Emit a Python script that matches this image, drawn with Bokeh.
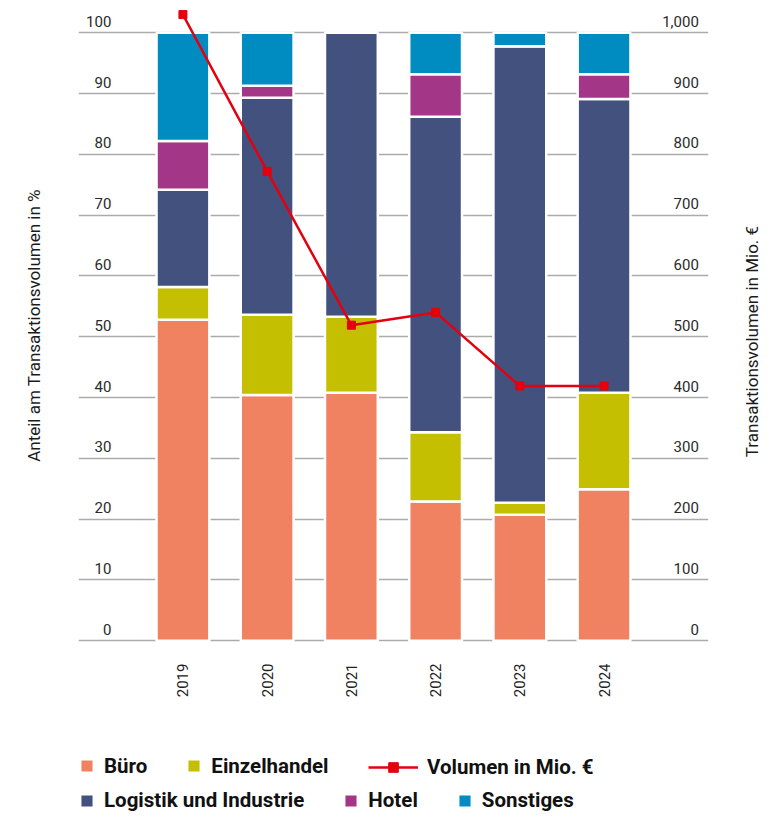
import math
from bokeh.plotting import figure
from bokeh.layouts import column
from bokeh.models import (ColumnDataSource, FactorRange, Range1d, LinearAxis,
                          FixedTicker, Legend, LegendItem)
from bokeh.core.properties import value
from bokeh.embed import file_html
from bokeh.resources import INLINE

# ---- data ----
years = ["2019", "2020", "2021", "2022", "2023", "2024"]
buero = [52.8, 40.4, 40.8, 22.9, 20.7, 24.9]
einzelhandel = [5.4, 13.2, 12.5, 11.4, 2.0, 15.9]
logistik = [16.0, 35.7, 46.7, 51.9, 75.1, 48.3]
hotel = [8.0, 2.0, 0.0, 7.0, 0.0, 4.1]
sonstiges = [17.8, 8.7, 0.0, 6.8, 2.2, 6.8]
volumen = [1030, 772, 519, 540, 419, 419]

pct_ticks = [0, 10, 20, 30, 40, 50, 60, 70, 80, 90, 100]
vol_ticks = [0, 100, 200, 300, 400, 500, 600, 700, 800, 900, 1000]

series = ["Büro", "Einzelhandel", "Logistik und Industrie", "Hotel", "Sonstiges"]
colors = ["#F08262", "#C4BF00", "#43517F", "#A43687", "#008CC1"]
line_color = "#E3000F"
right_title = "Transaktionsvolumen in Mio. €"

FONT = "Roboto"
PAD = 0.74
FRAME_W = 633
FRAME_H = 637
VOL_RANGE = (-3, 1040)
FIG_W = 775

src = ColumnDataSource(dict(year=years, b=buero, e=einzelhandel, l=logistik,
                            h=hotel, s=sonstiges, v=volumen))
stack_cols = ["b", "e", "l", "h", "s"]

p = figure(width=FIG_W, height=700, output_backend="svg", toolbar_location=None,
           x_range=FactorRange(factors=years, range_padding=PAD,
                               range_padding_units="absolute"),
           y_range=Range1d(-0.3, 104),
           min_border_left=78, min_border_right=64, min_border_top=8,
           min_border_bottom=55)
p.outline_line_color = None
p.extra_y_ranges = {"vol": Range1d(*VOL_RANGE)}

bars = p.vbar_stack(stack_cols, x="year", width=0.627, source=src,
                    color=colors, line_color="white", line_width=2.5)
ln = p.line(x="year", y="v", source=src, y_range_name="vol",
            line_color=line_color, line_width=2.5)
mk = p.scatter(x="year", y="v", source=src, y_range_name="vol", marker="square",
               size=8, fill_color=line_color, line_color=line_color)

# grid
p.xgrid.visible = False
p.ygrid.ticker = FixedTicker(ticks=pct_ticks)
p.ygrid.grid_line_color = "#ABABAB"
p.ygrid.grid_line_width = 1.3

def bare_axis(ax):
    ax.axis_line_color = None
    ax.major_tick_line_color = None
    ax.minor_tick_line_color = None

# left axis: title only (tick labels are drawn above the grid lines below)
la = p.yaxis[0]
la.ticker = FixedTicker(ticks=[])
bare_axis(la)
la.major_label_standoff = 0
la.axis_label = "Anteil am Transaktionsvolumen in %"
la.axis_label_text_font = FONT
la.axis_label_text_font_style = "normal"
la.axis_label_text_font_size = "17px"
la.axis_label_text_color = "#1a1a1a"
la.axis_label_standoff = 35

# right axis: its title reads bottom-to-top and is centred on the 0-1000 span
px_per_vol = FRAME_H / (VOL_RANGE[1] - VOL_RANGE[0])
title_half_len = 121 / px_per_vol          # half of the title's length, in axis units
title_anchor = 500 - title_half_len
ra = LinearAxis(y_range_name="vol", ticker=FixedTicker(ticks=[title_anchor]))
bare_axis(ra)
ra.major_label_overrides = {title_anchor: right_title}
ra.major_label_orientation = math.pi / 2
ra.major_label_standoff = 38
ra.major_label_text_font = FONT
ra.major_label_text_font_size = "17px"
ra.major_label_text_color = "#1a1a1a"
p.add_layout(ra, "right")

# x axis
xa = p.xaxis[0]
bare_axis(xa)
xa.major_label_orientation = math.pi / 2
xa.major_label_standoff = 15
xa.major_label_text_font = FONT
xa.major_label_text_font_size = "15px"
xa.major_label_text_color = "#222222"

# tick labels drawn above the grid lines, inside the plot area
px_per_unit = FRAME_W / (len(years) + 2 * PAD)
x_left_lab = -PAD + 33 / px_per_unit
x_right_lab = len(years) + PAD - 9.7 / px_per_unit
p.text(x=[x_left_lab] * len(pct_ticks), y=pct_ticks, text=[str(t) for t in pct_ticks],
       text_align="right", text_baseline="bottom", y_offset=-6,
       text_font=value(FONT), text_font_size="15px", text_color="#2a2a2a")
p.text(x=[x_right_lab] * len(vol_ticks), y=vol_ticks, y_range_name="vol",
       text=[f"{t:,}" for t in vol_ticks],
       text_align="right", text_baseline="bottom", y_offset=-6,
       text_font=value(FONT), text_font_size="15px", text_color="#2a2a2a")

# ---- legend panel (its glyphs fall outside its own visible range) ----
LEG_H = 119
q = figure(width=FIG_W, height=LEG_H, output_backend="svg", toolbar_location=None,
           x_range=FactorRange(factors=years), y_range=Range1d(5000, 5001),
           x_axis_type=None, y_axis_type=None,
           min_border_left=0, min_border_right=0, min_border_top=0, min_border_bottom=0)
q.outline_line_color = None
q.xgrid.visible = False
q.ygrid.visible = False

sw = q.vbar_stack(stack_cols, x="year", width=0.627, source=src,
                  color=colors, line_color="white", line_width=2.5)
qln = q.line(x="year", y="v", source=src, line_color=line_color, line_width=2.5)
qmk = q.scatter(x="year", y="v", source=src, marker="square", size=8,
                fill_color=line_color, line_color=line_color)

def style(lg, gw, gh):
    lg.orientation = "horizontal"
    lg.glyph_width = gw
    lg.glyph_height = gh
    lg.label_standoff = 9
    lg.spacing = 38
    lg.padding = 0
    lg.margin = 0
    lg.border_line_color = None
    lg.background_fill_alpha = 0
    lg.label_text_font = FONT
    lg.label_text_font_style = "bold"
    lg.label_text_font_size = "20.5px"
    lg.label_text_color = "#111111"
    lg.label_height = 17

ITEM_H = 24
lg1 = Legend(items=[LegendItem(label=series[0], renderers=[sw[0]]),
                    LegendItem(label=series[1], renderers=[sw[1]])],
             location=(0, LEG_H - 53.5 - ITEM_H))
style(lg1, 17, 17)
lg2 = Legend(items=[LegendItem(label="Volumen in Mio. €", renderers=[qln, qmk])],
             location=(290, LEG_H - 55 - ITEM_H))
style(lg2, 50, 24)
lg3 = Legend(items=[LegendItem(label=series[2], renderers=[sw[2]]),
                    LegendItem(label=series[3], renderers=[sw[3]]),
                    LegendItem(label=series[4], renderers=[sw[4]])],
             location=(0, LEG_H - 88 - ITEM_H))
style(lg3, 17, 17)
for lg in (lg1, lg2, lg3):
    q.add_layout(lg, "center")

layout = column(p, q, spacing=0)
open("out.html", "w").write(file_html(layout, INLINE))
